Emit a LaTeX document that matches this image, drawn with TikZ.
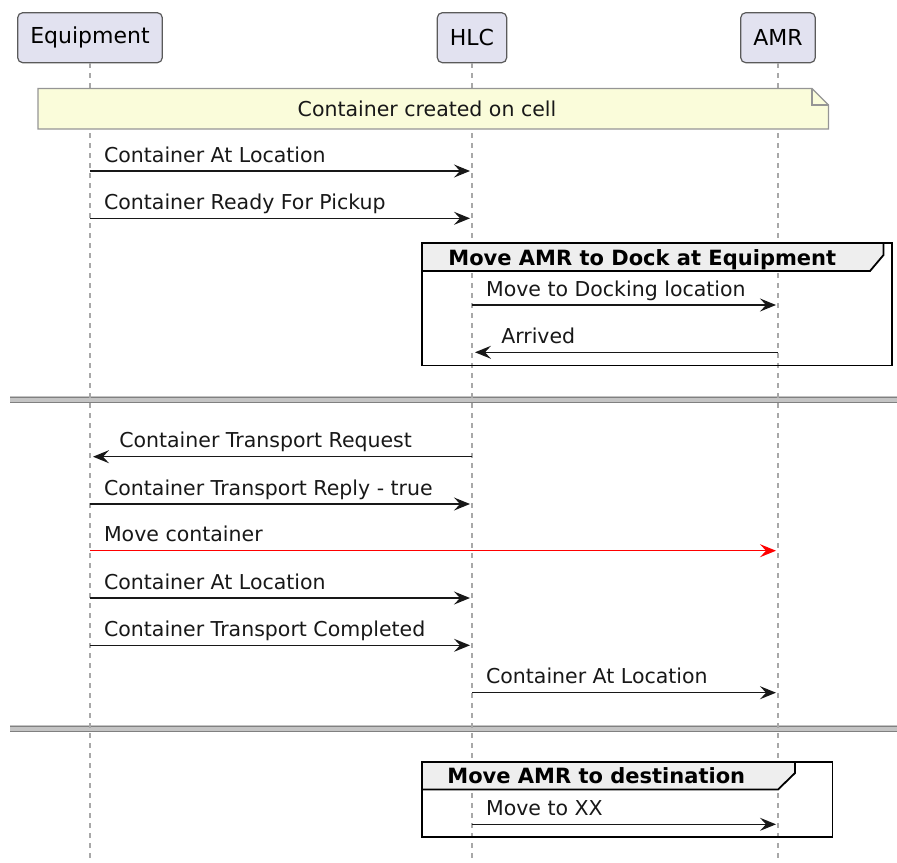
\documentclass[tikz,border=0pt]{standalone}
\usepackage{fontspec}
\setmainfont{DejaVu Sans}
\usetikzlibrary{arrows.meta}

\definecolor{partfill}{HTML}{E2E2F0}
\definecolor{partline}{HTML}{5A5A5A}
\definecolor{lifegray}{HTML}{A8A8A8}
\definecolor{msgline}{HTML}{181818}
\definecolor{notefill}{HTML}{FAFCDA}
\definecolor{noteline}{HTML}{959595}
\definecolor{headfill}{HTML}{EEEEEE}
\definecolor{divdark}{HTML}{808080}
\definecolor{divlight}{HTML}{C4C4C4}

\tikzset{
  participant/.style={draw=partline, fill=partfill, line width=0.6pt, rounded corners=2.5pt,
    minimum height=25pt, inner xsep=6.3pt, font=\fontsize{11}{13}\selectfont},
  lifeline/.style={draw=lifegray, line width=0.8pt, dash pattern=on 2.5pt off 2.5pt},
  msg/.style={draw=msgline, line width=0.65pt, -{Stealth[length=8pt,width=6.5pt,inset=3pt]}},
  lblR/.style={anchor=base west, inner sep=0pt, xshift=6.7pt, yshift=4.5pt,
    text=msgline, font=\fontsize{10.25}{12}\selectfont},
  lblL/.style={lblR, xshift=7.6pt},
  notebox/.style={draw=noteline, fill=notefill, line width=0.6pt},
  grouphead/.style={fill=headfill},
  groupframe/.style={draw=black, line width=0.9pt},
  grouptitle/.style={anchor=base west, inner sep=0pt, font=\bfseries\fontsize{10.5}{12}\selectfont},
  divline/.style={draw=divdark, line width=0.75pt},
}

\begin{document}
\begin{tikzpicture}[x=0.5pt,y=-0.5pt]
  \useasboundingbox (0,0) rectangle (897,862);

  % participants
  \node[participant] (eq) at (90,37.7) {Equipment};
  \node[participant] (hlc) at (472,37.7) {HLC};
  \node[participant] (amr) at (778,37.7) {AMR};
  \coordinate (bottom) at (0,862);

  % message rows on the lifelines
  \foreach \r/\y in {1/171,2/218.3,3/305,4/352.3,5/456.7,6/504,7/550.7,8/598,9/645.3,10/692.7,11/824.3}{
    \coordinate (eq\r) at (90,\y);
    \coordinate (hlc\r) at (472,\y);
    \coordinate (amr\r) at (778,\y);
  }

  % dividers
  \foreach \y in {399.8,728.8}{
    \fill[divlight] (10,\y-3.5) rectangle (897,\y+3.5);
    \draw[divline] (10,\y-2.5) -- (897,\y-2.5);
    \draw[divline] (10,\y+2.5) -- (897,\y+2.5);
  }

  % lifelines
  \draw[lifeline] (eq.south) -- (eq |- bottom);
  \draw[lifeline] (hlc.south) -- (hlc |- bottom);
  \draw[lifeline] (amr.south) -- (amr |- bottom);

  % note across
  \draw[notebox] (38,88.5) -- (812,88.5) -- (828.5,105) -- (828.5,129) -- (38,129) -- cycle;
  \draw[draw=noteline, line width=0.6pt] (812,88.5) -- (812,105) -- (828.5,105);
  \node[font=\fontsize{10.25}{12}\selectfont, text=msgline] (note) at (427,108.7) {Container created on cell};

  % group: Move AMR to Dock at Equipment
  \path[grouphead] (422,243) -- (883.5,243) -- (883.5,255) -- (870,271) -- (422,271) -- cycle;
  \draw[groupframe] (883.5,243) -- (883.5,255) -- (870,271) -- (422,271);
  \draw[groupframe] (422,243) rectangle (892,365.5);
  \node[grouptitle] (dock) at (448,265) {Move AMR to Dock at Equipment};

  % group: Move AMR to destination
  \path[grouphead] (422,762) -- (795,762) -- (795,773) -- (778,789.5) -- (422,789.5) -- cycle;
  \draw[groupframe] (795,762) -- (795,773) -- (778,789.5) -- (422,789.5);
  \draw[groupframe] (422,762) rectangle (832.5,837);
  \node[grouptitle] (dest) at (447,783) {Move AMR to destination};

  % messages
  \draw[msg, shorten >=1pt] (eq1) -- node[pos=0, lblR] {Container At Location} (hlc1);
  \draw[msg, shorten >=1pt] (eq2) -- node[pos=0, lblR] {Container Ready For Pickup} (hlc2);
  \draw[msg, shorten >=1pt] (hlc3) -- node[pos=0, lblR] {Move to Docking location} (amr3);
  \draw[msg, shorten >=1.5pt] (amr4) -- node[pos=1, lblL] {Arrived} (hlc4);
  \draw[msg, shorten >=1.5pt] (hlc5) -- node[pos=1, lblL] {Container Transport Request} (eq5);
  \draw[msg, shorten >=1pt] (eq6) -- node[pos=0, lblR] {Container Transport Reply - true} (hlc6);
  \draw[msg, draw=red, shorten >=1pt] (eq7) -- node[pos=0, lblR] {Move container} (amr7);
  \draw[msg, shorten >=1pt] (eq8) -- node[pos=0, lblR] {Container At Location} (hlc8);
  \draw[msg, shorten >=1pt] (eq9) -- node[pos=0, lblR] {Container Transport Completed} (hlc9);
  \draw[msg, shorten >=1pt] (hlc10) -- node[pos=0, lblR] {Container At Location} (amr10);
  \draw[msg, shorten >=1pt] (hlc11) -- node[pos=0, lblR] {Move to XX} (amr11);
\end{tikzpicture}
\end{document}
